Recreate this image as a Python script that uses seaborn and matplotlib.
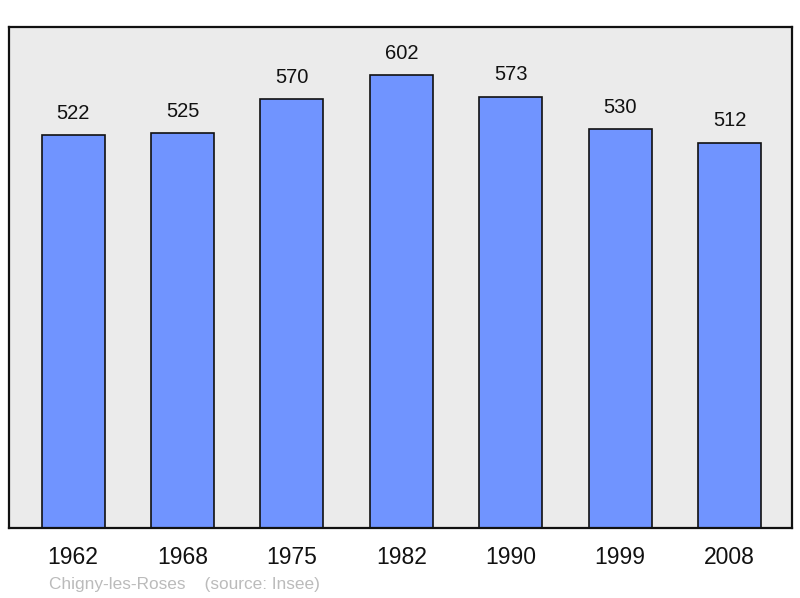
import matplotlib
matplotlib.use("Agg")
import matplotlib.pyplot as plt
import seaborn as sns
import pandas as pd

years = ["1962", "1968", "1975", "1982", "1990", "1999", "2008"]
population = [522, 525, 570, 602, 573, 530, 512]
caption = "Chigny-les-Roses    (source: Insee)"

sns.set_style("white")
plt.rcParams["font.family"] = ["Liberation Sans", "DejaVu Sans"]

df = pd.DataFrame({"year": years, "pop": population})

fig = plt.figure(figsize=(8, 5.98), dpi=100)
ax = fig.add_axes([0.01125, 0.117, 0.97875, 0.8378])
ax.set_facecolor("#ebebeb")

sns.barplot(data=df, x="year", y="pop", ax=ax, color="#7094ff", saturation=1,
            width=0.576, edgecolor="#111111", linewidth=1.2)

ax.set_xlim(-0.585, 6.57)
ax.set_ylim(0, 666)
ax.set_yticks([])
ax.set_xlabel("")
ax.set_ylabel("")
ax.tick_params(axis="x", length=0, labelsize=16.5, pad=13, colors="#111111")
for s in ax.spines.values():
    s.set_visible(True)
    s.set_color("#111111")
    s.set_linewidth(1.6)

for i, v in enumerate(population):
    ax.annotate(str(v), (i, v), xytext=(0, 9), textcoords="offset points",
                ha="center", va="bottom", fontsize=14.5, color="#111111")

fig.text(49 / 800, 1 - 584 / 598, caption, ha="left", va="center",
         fontsize=12.4, color="#bbbbbb")

fig.savefig("out.png", dpi=100)
